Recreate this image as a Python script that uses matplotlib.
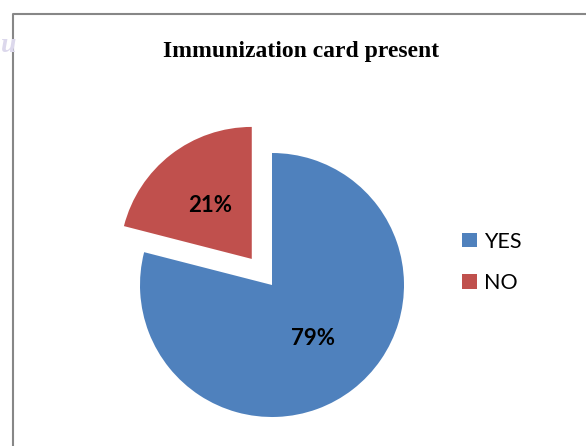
"""Pie chart: share of respondents with an immunization card."""

import matplotlib

matplotlib.use("Agg")
import matplotlib.pyplot as plt
from matplotlib.lines import Line2D
from matplotlib.patches import Patch

W, H = 586, 446
DPI = 100

TITLE = "Immunization card present"
CATEGORIES = ["YES", "NO"]
SHARES = [79, 21]
COLORS = ["#4F81BD", "#C0504D"]
EXPLODE = [0.0, 0.25]

# pie centre and radius in pixels (from top-left)
CX, CY, R = 272, 285, 132

fig = plt.figure(figsize=(W / DPI, H / DPI), dpi=DPI)
ax = fig.add_axes([0, 0, 1, 1])

wedges, _, autotexts = ax.pie(
    SHARES,
    colors=COLORS,
    explode=EXPLODE,
    startangle=90,
    counterclock=False,
    autopct="%d%%",
    pctdistance=0.51,
    textprops={"family": "Lato", "weight": "bold", "size": 16, "color": "black"},
    wedgeprops={"linewidth": 0},
)

# map data units so radius 1 == R pixels, centred at (CX, CY)
ax.set_xlim(-CX / R, (W - CX) / R)
ax.set_ylim(-(H - CY) / R, CY / R)
ax.set_aspect("auto")
ax.axis("off")

fig.text(301 / W, 1 - 57 / H, TITLE, ha="center", va="baseline",
         family="Liberation Serif", weight="bold", fontsize=17)

handles = [Patch(facecolor=c, edgecolor="none") for c in COLORS]
fig.legend(
    handles, CATEGORIES,
    loc="center left",
    bbox_to_anchor=(443 / W, 1 - 262.5 / H),
    frameon=False,
    prop={"family": "Lato", "size": 15.5},
    handlelength=0.66,
    handleheight=0.66,
    handletextpad=0.33,
    labelspacing=1.0,
)

# chart frame (cropped on the right and bottom)
fig.add_artist(Line2D([13 / W, 13 / W, 1], [0, 1 - 14 / H, 1 - 14 / H],
                      color="#878787", linewidth=1.5, transform=fig.transFigure))

# faint watermark letter at the far left
fig.text(1 / W, 1 - 52 / H, "u", family="Liberation Serif", style="italic",
         weight="bold", fontsize=20, color="#dcd8ec")

fig.savefig("out.png", dpi=DPI)
